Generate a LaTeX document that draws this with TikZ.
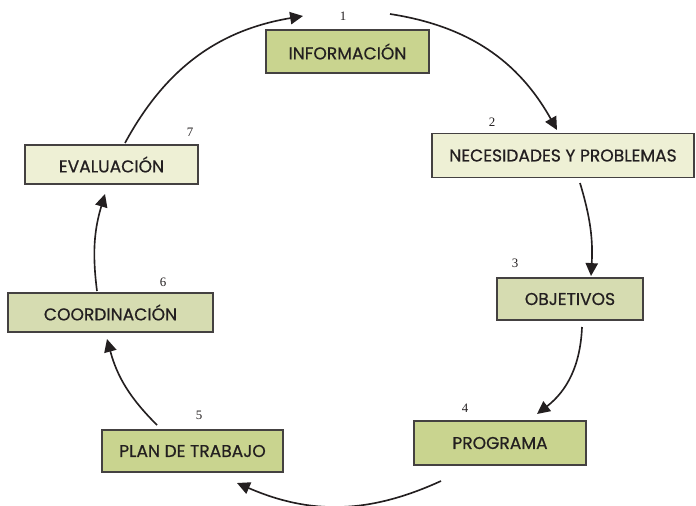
\documentclass[tikz,border=0pt]{standalone}
\usepackage{fontspec}
\newfontfamily\boxfont[FakeBold=0.6]{Poppins}
\newfontfamily\numfont{Liberation Serif}
\usetikzlibrary{arrows.meta,positioning}
\definecolor{greenA}{HTML}{C9D48F}
\definecolor{greenB}{HTML}{D6DCB1}
\definecolor{greenC}{HTML}{EEF0D5}
\definecolor{ink}{HTML}{231F20}

\begin{document}
\begin{tikzpicture}[x=0.03cm,y=-0.03cm,
    etapa/.style={draw=ink!85,line width=0.9pt,inner sep=0pt,
      font=\boxfont\fontsize{14.6}{16}\selectfont,text=ink},
    num/.style={font=\numfont\fontsize{11}{13}\selectfont,text=ink},
    flecha/.style={-{Triangle[length=11pt,width=10.5pt]},line width=1.4pt,draw=ink}]
    \useasboundingbox (0,0) rectangle (696,506);

    % etapas
    \node[etapa,fill=greenA,minimum width=4.89cm,minimum height=1.29cm] (info) at (347.5,51.5) {INFORMACIÓN};
    \node[etapa,fill=greenC,minimum width=7.86cm,minimum height=1.32cm] (nec) at (563,155.5) {NECESIDADES Y PROBLEMAS};
    \node[etapa,fill=greenB,minimum width=4.38cm,minimum height=1.26cm] (obj) at (570,299) {OBJETIVOS};
    \node[etapa,fill=greenA,minimum width=5.16cm,minimum height=1.32cm] (prog) at (500,443) {PROGRAMA};
    \node[etapa,fill=greenA,minimum width=5.43cm,minimum height=1.26cm] (plan) at (192.5,451) {PLAN DE TRABAJO};
    \node[etapa,fill=greenB,minimum width=6.15cm,minimum height=1.17cm] (coord) at (110.5,312.5) {COORDINACIÓN};
    \node[etapa,fill=greenC,minimum width=5.19cm,minimum height=1.17cm] (eval) at (111.5,164.5) {EVALUACIÓN};

    % numeros
    \node[num] (n1) at (343,16) {1};
    \node[num] (n2) at (492,122) {2};
    \node[num] (n3) at (515,263) {3};
    \node[num] (n4) at (465,408) {4};
    \node[num] (n5) at (199,415) {5};
    \node[num] (n6) at (163,282) {6};
    \node[num] (n7) at (190,132) {7};

    % extremos de las flechas
    \coordinate (a1) at (125,143); \coordinate (b1) at (303,16);
    \coordinate (a2) at (390,14);  \coordinate (b2) at (557,130);
    \coordinate (a3) at (580,183); \coordinate (b3) at (591,276);
    \coordinate (a4) at (582,327); \coordinate (b4) at (537,414);
    \coordinate (a5) at (441,481); \coordinate (b5) at (237,483);
    \coordinate (a6) at (157,425); \coordinate (b6) at (107,339);
    \coordinate (a7) at (97,291);  \coordinate (b7) at (105,194);

    \draw[flecha] (a1) to[bend left=26] (b1);
    \draw[flecha] (a2) to[bend left=26] (b2);
    \draw[flecha] (a3) to[bend left=10] (b3);
    \draw[flecha] (a4) to[bend left=25] (b4);
    \draw[flecha] (a5) to[bend left=24] (b5);
    \draw[flecha] (a6) to[bend left=15] (b6);
    \draw[flecha] (a7) to[bend left=12] (b7);
\end{tikzpicture}
\end{document}
